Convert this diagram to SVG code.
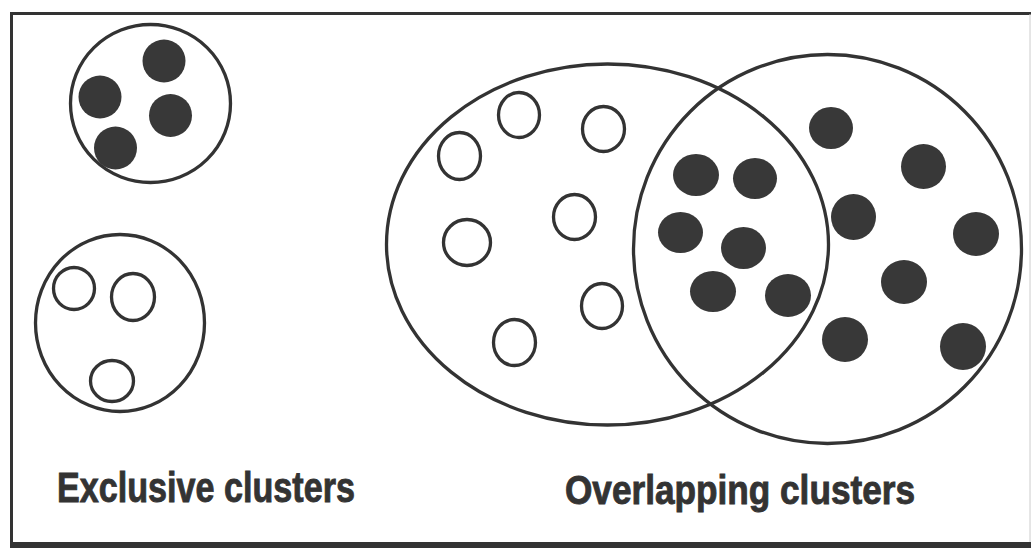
<svg xmlns="http://www.w3.org/2000/svg" width="1031" height="548" viewBox="0 0 1031 548">
<style>
.ring{fill:none;stroke:#333;stroke-width:3.3}
.dot{fill:#383838;stroke:none}
.hol{fill:none;stroke:#333;stroke-width:3.3}
.lbl{font-family:"Liberation Sans",Arial,sans-serif;font-weight:bold;fill:#333;stroke:#333;stroke-width:0.9}
</style>
<rect width="1031" height="548" fill="#fff"/>
<g id="frame">
<line x1="10" y1="13.5" x2="1031" y2="13.5" stroke="#333" stroke-width="3"/>
<line x1="11.5" y1="12" x2="11.5" y2="544" stroke="#333" stroke-width="3"/>
<rect x="10" y="542" width="1021" height="6" fill="#333"/>
<line x1="1030" y1="14" x2="1030" y2="542" stroke="#ccc" stroke-width="1"/>
</g>
<g id="exclusive-filled">
<ellipse class="ring" cx="150.5" cy="103.5" rx="80" ry="79"/>
<circle class="dot" cx="164" cy="61" r="21.5"/>
<circle class="dot" cx="100" cy="97" r="21.5"/>
<circle class="dot" cx="170.5" cy="115.5" r="21.5"/>
<circle class="dot" cx="115.5" cy="148" r="21.5"/>
</g>
<g id="exclusive-hollow">
<ellipse class="ring" cx="120" cy="323" rx="84.5" ry="88.5"/>
<ellipse class="hol" cx="74" cy="288.5" rx="20.5" ry="21"/>
<ellipse class="hol" cx="133" cy="297" rx="21.5" ry="23.5"/>
<ellipse class="hol" cx="112" cy="381" rx="21.5" ry="20.5"/>
</g>
<g id="overlap-left">
<ellipse class="ring" cx="607.5" cy="244.5" rx="221" ry="180.5"/>
<ellipse class="hol" cx="519" cy="115" rx="20.5" ry="22.5"/>
<ellipse class="hol" cx="603.5" cy="129" rx="21" ry="22.5"/>
<ellipse class="hol" cx="459.5" cy="156" rx="21" ry="23.5"/>
<ellipse class="hol" cx="574.5" cy="217" rx="21" ry="22.5"/>
<ellipse class="hol" cx="467" cy="242.5" rx="23.5" ry="23"/>
<ellipse class="hol" cx="602" cy="306" rx="20.5" ry="22.5"/>
<ellipse class="hol" cx="514.5" cy="342.5" rx="21" ry="23"/>
</g>
<g id="overlap-right">
<ellipse class="ring" cx="827.5" cy="249" rx="194" ry="194.5"/>
<ellipse class="dot" cx="696" cy="175" rx="23" ry="21"/>
<ellipse class="dot" cx="755" cy="178.5" rx="22" ry="20.5"/>
<ellipse class="dot" cx="680.5" cy="232.5" rx="22.5" ry="20.5"/>
<ellipse class="dot" cx="743.5" cy="248" rx="22.5" ry="21"/>
<ellipse class="dot" cx="713" cy="291.5" rx="23" ry="20.5"/>
<ellipse class="dot" cx="788" cy="295.5" rx="23" ry="21.5"/>
<ellipse class="dot" cx="831" cy="128" rx="22" ry="21"/>
<ellipse class="dot" cx="923.5" cy="166.5" rx="22.5" ry="22.5"/>
<ellipse class="dot" cx="853.5" cy="217" rx="22.5" ry="23"/>
<ellipse class="dot" cx="976" cy="234" rx="23" ry="22"/>
<ellipse class="dot" cx="904" cy="282" rx="23" ry="22"/>
<ellipse class="dot" cx="845" cy="339.5" rx="23" ry="22.5"/>
<ellipse class="dot" cx="963" cy="346.5" rx="23" ry="23.5"/>
</g>
<g id="labels">
<text class="lbl" x="57" y="502" font-size="42" textLength="298" lengthAdjust="spacingAndGlyphs">Exclusive clusters</text>
<text class="lbl" x="565" y="504" font-size="40" textLength="350" lengthAdjust="spacingAndGlyphs">Overlapping clusters</text>
</g>
</svg>
